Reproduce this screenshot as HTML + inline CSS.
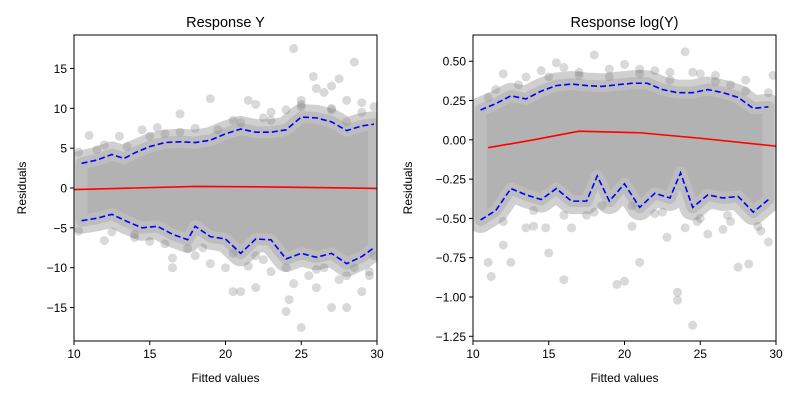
<!DOCTYPE html>
<html><head><meta charset="utf-8"><style>
body{margin:0;background:#fff;}
svg text{font-family:"Liberation Sans","DejaVu Sans",sans-serif;fill:#000;}
</style></head><body>
<svg id="chart" width="800" height="400" xmlns="http://www.w3.org/2000/svg"></svg>
<script>
// Left panel data (Response Y)
const leftUpperX=[10.5,11.5,12.5,13.3,14,15,16,17,18,19,20,21,22,23,24,25,26,27,28,29,29.8];
const leftUpperY=[3.1,3.5,4.2,3.7,4.4,5.2,5.7,5.8,5.7,6.0,6.8,7.4,7.0,7.0,7.3,8.9,8.8,8.3,7.2,7.8,8.0];
const leftLowerX=[10.5,11.5,12.5,13.5,14.5,15.5,16.5,17.5,18,19,20,21,22,23,24,25,26,27,28,29,29.8];
const leftLowerY=[-4.1,-3.8,-3.3,-4.2,-5.0,-4.8,-5.8,-6.5,-4.8,-6.1,-6.4,-8.2,-6.4,-6.5,-8.9,-8.2,-8.7,-8.2,-9.5,-8.6,-7.5];
const leftMedX=[10,14,18,22,26,30];
const leftMedY=[-0.2,0.0,0.2,0.15,0.05,-0.05];
const leftPtsX=[24.5,28.5,25.8,26.5,27.5,21.5,19,17,22,25,27,28,29,29.8,26,20.5,23,24,11,13,14.5,15.5,16,18,12,10.3,22.5,28,25,27,
24,25,24.2,22,21,20.5,27,28,26,29,16.5,16.5,19,20,23,25.5,27.5,29.5,12,14,15,10.3,18,22.5,24.5,26.5,28.5,29.8,21.5,17.5,
11.5,13.5,15,17,19.5,21,23,25,27,29,12.5,14,16,18.5,20.5,22,24,26,28,29.5];
const leftPtsY=[17.5,15.8,14,12,13.7,11,11.2,9.3,10.5,11,10,11,10.7,10.2,12.5,8.5,9.5,9.8,6.6,6.5,7.3,7.6,6.8,7.5,5.4,4.5,8.8,8.3,10.5,12.8,
-15.5,-17.5,-14,-12.5,-13,-13,-15,-15,-12.5,-13,-10,-8.8,-9.5,-10,-10.5,-11,-11.5,-11,-6.6,-6.2,-6.7,-5.4,-8.5,-9,-12,-10,-10,-8.5,-9.8,-7.6,
4.8,5.2,6.5,7,7.3,8.2,8.5,10.2,9.8,9.5,-5.5,-5.8,-7,-7.5,-8.2,-8.5,-10,-10.2,-11,-10.5];
// Right panel data (Response log(Y))
const rightUpperX=[10.5,11.5,12.5,13.5,14.5,15.5,16.5,17.5,18.5,19.5,20.5,21.5,22.5,23.5,24.5,25.5,26.5,27.5,28.5,29.5];
const rightUpperY=[0.19,0.23,0.28,0.26,0.31,0.345,0.355,0.345,0.34,0.35,0.36,0.36,0.32,0.30,0.30,0.32,0.30,0.27,0.20,0.21];
const rightLowerX=[10.5,11.5,12.5,13.5,14.5,15.5,16.5,17.5,18.2,19,20,21,22,23,23.7,24.5,25.5,26.5,27.5,28.5,29.5];
const rightLowerY=[-0.51,-0.45,-0.31,-0.35,-0.38,-0.31,-0.39,-0.39,-0.23,-0.39,-0.28,-0.43,-0.34,-0.37,-0.21,-0.43,-0.35,-0.37,-0.36,-0.46,-0.38];
const rightMedX=[11,14,17,21,25,30];
const rightMedY=[-0.05,0.0,0.055,0.045,0.01,-0.04];
const rightPtsX=[18,24,20,15.5,12,13.5,16,21,22,25,26,28,29.8,23,27,19,14.5,11,17,24.5,
11,11.2,12.5,13.5,12,14.8,15,16,16.5,19.5,20,20.5,21,22.8,23.5,23.5,24.5,24,25.5,26.5,27.5,28.2,29.5,29,14,17.5,22,27,18,25,
11.5,13,15,17,19,21,23,26,28,29.5,12,14,16,18.5,20.5,22.5,24.8,26.8,28.8];
const rightPtsY=[0.54,0.56,0.48,0.49,0.42,0.4,0.46,0.45,0.44,0.42,0.41,0.38,0.41,0.43,0.35,0.45,0.44,0.27,0.43,0.43,
-0.78,-0.87,-0.78,-0.56,-0.67,-0.56,-0.72,-0.89,-0.56,-0.92,-0.9,-0.55,-0.78,-0.62,-0.97,-1.02,-1.18,-0.56,-0.6,-0.57,-0.81,-0.79,-0.65,-0.58,-0.55,-0.48,-0.47,-0.52,-0.46,-0.5,
0.32,0.35,0.4,0.41,0.4,0.42,0.38,0.37,0.31,0.3,-0.52,-0.45,-0.48,-0.42,-0.42,-0.46,-0.52,-0.48,-0.55];
const leftYTicks=[-15,-10,-5,0,5,10,15];
const leftYLabels=["\u221215","\u221210","\u22125","0","5","10","15"];
const rightYTicks=[-1.25,-1,-0.75,-0.5,-0.25,0,0.25,0.5];
const rightYLabels=["\u22121.25","\u22121.00","\u22120.75","\u22120.50","\u22120.25","0.00","0.25","0.50"];
const xTicks=[10,15,20,25,30];

const svg=document.getElementById('chart');
const NS='http://www.w3.org/2000/svg';
function mk(tag,attrs,parent){const e=document.createElementNS(NS,tag);for(const k in attrs)e.setAttribute(k,attrs[k]);(parent||svg).appendChild(e);return e;}

function panel(o){
  const g=mk('g',{});
  
  
  const L=o.left,R=o.left+303,T=35,B=341;
  const sx=v=>L+(v-10)/20*(R-L);
  const sy=v=>T+(o.ymax-v)/(o.ymax-o.ymin)*(B-T);
  let d='M'+o.ux.map((x,i)=>sx(x)+','+sy(o.uy[i])).join('L');
  for(let i=o.lx.length-1;i>=0;i--) d+='L'+sx(o.lx[i])+','+sy(o.ly[i]);
  mk('path',{d:d+'Z',fill:'none',stroke:'#d0d0d0','stroke-width':26,'stroke-linejoin':'round'},g);
  const band=mk('path',{d:d+'Z',fill:'#b2b2b2',stroke:'#bdbdbd','stroke-width':12,'stroke-linejoin':'round'},g);
  
  
  for(let i=0;i<o.px.length;i++){
    const c=mk('circle',{cx:sx(o.px[i]),cy:sy(o.py[i]),r:4.5,fill:'rgba(128,128,128,0.3)'},g);
    
    
  }
  const line=(xs,ys,col,dash,nm)=>{const p=mk('polyline',{points:xs.map((x,i)=>sx(x)+','+sy(ys[i])).join(' '),fill:'none',stroke:col,'stroke-width':1.6,'stroke-dasharray':dash||'none'},g);
    
    };
  line(o.ux,o.uy,'#0000ff','6,3','upper-quantile-line');
  line(o.lx,o.ly,'#0000ff','6,3','lower-quantile-line');
  line(o.mx,o.my,'#ff0000',null,'median-line');
  mk('rect',{x:L-60,y:0,width:59.5,height:400,fill:'#fff'},g);
  mk('rect',{x:R+0.5,y:0,width:40,height:400,fill:'#fff'},g);
  mk('rect',{x:L-60,y:B+0.5,width:400,height:59,fill:'#fff'},g);
  mk('rect',{x:L-60,y:0,width:400,height:T-0.5,fill:'#fff'},g);
  const fr=mk('rect',{x:L,y:T,width:R-L,height:B-T,fill:'none',stroke:'#000','stroke-width':1},g);
  
  
  xTicks.forEach(v=>{mk('line',{x1:sx(v),x2:sx(v),y1:B,y2:B+4,stroke:'#000'},g);
    const t=mk('text',{x:sx(v),y:B+17,'text-anchor':'middle','font-size':12},g);t.textContent=v;
    
    });
  o.yt.forEach((v,i)=>{mk('line',{x1:L-4,x2:L,y1:sy(v),y2:sy(v),stroke:'#000'},g);
    const t=mk('text',{x:L-7,y:sy(v)+4.5,'text-anchor':'end','font-size':12},g);t.textContent=o.yl[i];
    
    });
  const ti=mk('text',{x:(L+R)/2,y:27,'text-anchor':'middle','font-size':14.5},g);ti.textContent=o.title;
  
  
  const xl=mk('text',{x:(L+R)/2,y:382,'text-anchor':'middle','font-size':12},g);xl.textContent='Fitted values';
  
  
  const yl=mk('text',{x:0,y:0,'text-anchor':'middle','font-size':12,transform:`translate(${o.ylx},${(T+B)/2}) rotate(-90)`},g);yl.textContent='Residuals';
  
  
}
panel({name:'panel-response-y',left:74,ymin:-19.2,ymax:19.2,ux:leftUpperX,uy:leftUpperY,lx:leftLowerX,ly:leftLowerY,mx:leftMedX,my:leftMedY,px:leftPtsX,py:leftPtsY,yt:leftYTicks,yl:leftYLabels,title:'Response Y',ylx:26});
panel({name:'panel-response-logy',left:473,ymin:-1.28,ymax:0.667,ux:rightUpperX,uy:rightUpperY,lx:rightLowerX,ly:rightLowerY,mx:rightMedX,my:rightMedY,px:rightPtsX,py:rightPtsY,yt:rightYTicks,yl:rightYLabels,title:'Response log(Y)',ylx:412});
</script>
</body></html>
